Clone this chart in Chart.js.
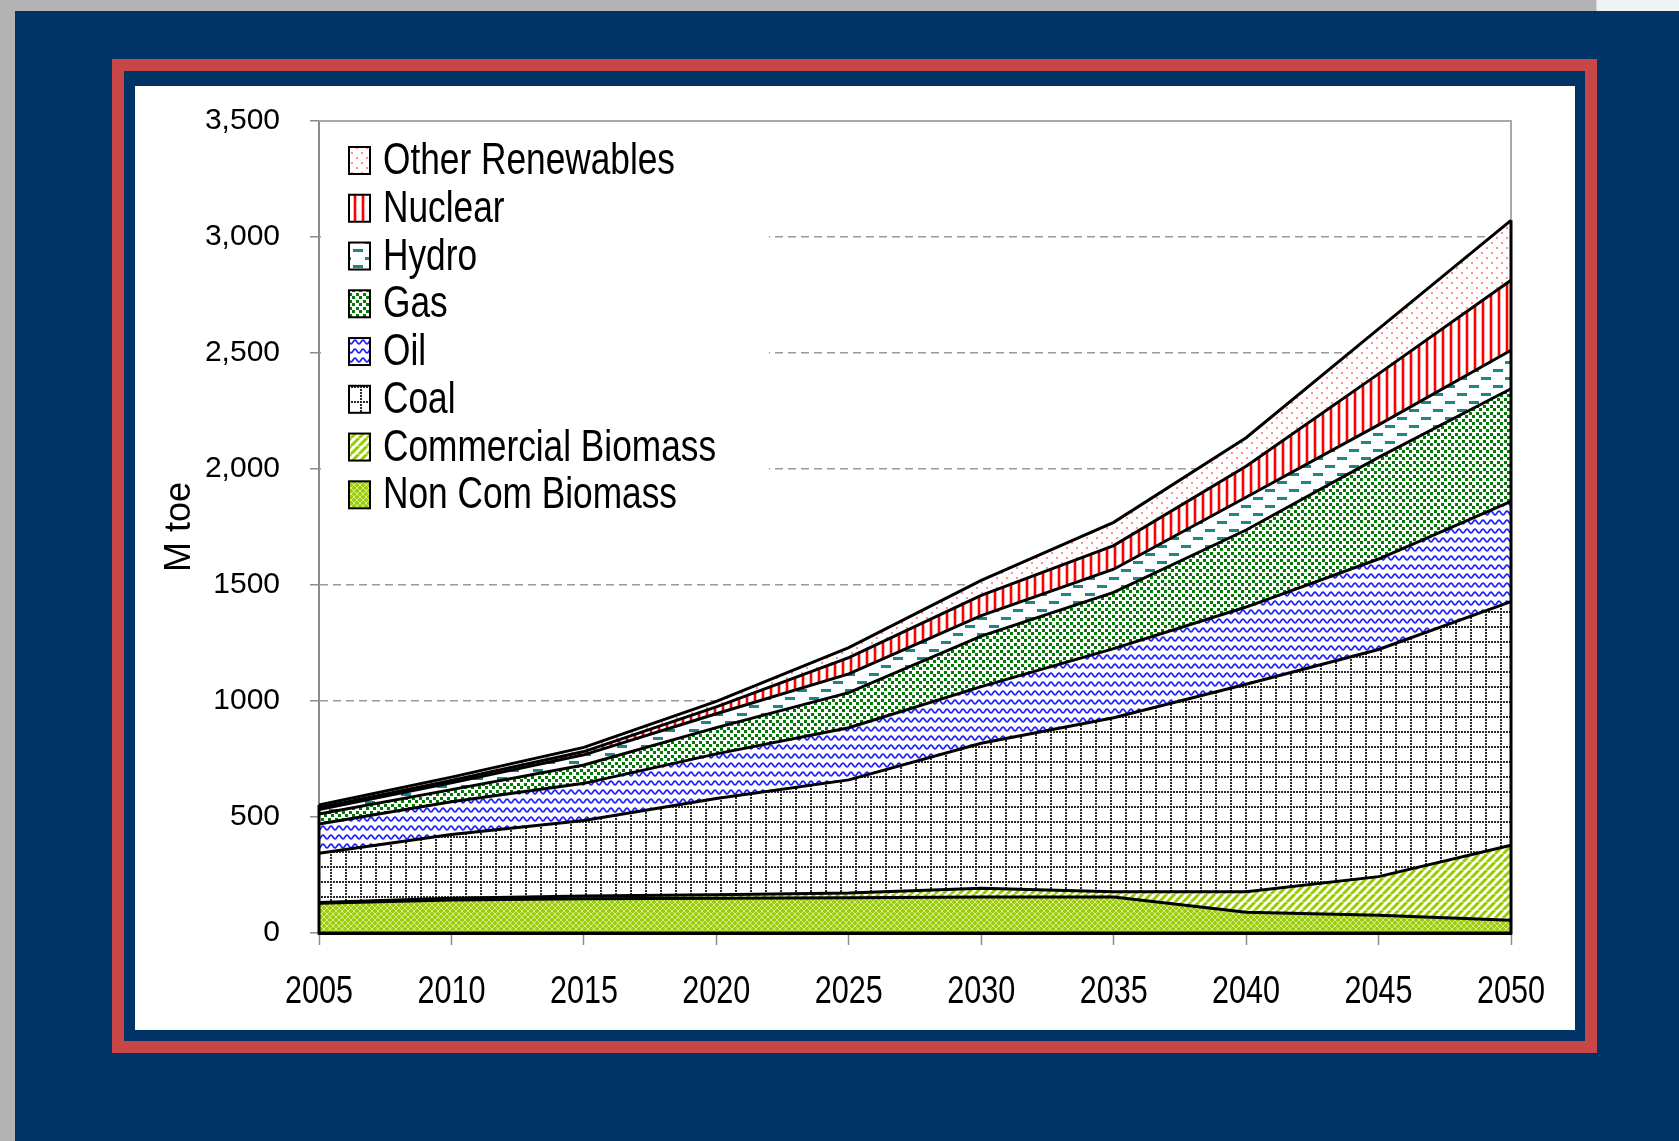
<!DOCTYPE html>
<html>
<head>
<meta charset="utf-8">
<title>Primary energy supply by source, 2005-2050</title>
<script src="https://cdn.jsdelivr.net/npm/chart.js@4.4.1/dist/chart.umd.min.js"></script>
<style>
  html, body { margin: 0; padding: 0; }
  body { width: 1679px; height: 1141px; background: #003366; position: relative; overflow: hidden; }
  #grayTop { position: absolute; left: 0; top: 0; width: 1596px; height: 11px; background: #b3b3b3; }
  #grayLeft { position: absolute; left: 0; top: 0; width: 15px; height: 1141px; background: #b3b3b3; }
  #corner { position: absolute; left: 1596px; top: 0; width: 83px; height: 11px; background: #eef3f6; border-left: 1px solid #cfd8de; box-sizing: border-box; }
  #redFrame { position: absolute; left: 112px; top: 59px; width: 1461px; height: 970px; border: 12px solid #c94648; }
  #panel { position: absolute; left: 135px; top: 86px; width: 1440px; height: 944px; background: #fff; }
  #chart { display: block; }
</style>
</head>
<body>
<div id="grayTop"></div>
<div id="grayLeft"></div>
<div id="corner"></div>
<div id="redFrame"></div>
<div id="panel"><canvas id="chart" width="1440" height="944"></canvas></div>

<script>
// ---- data (Mtoe, each series is its own slice of the stack) ----
const years = ['2005', '2010', '2015', '2020', '2025', '2030', '2035', '2040', '2045', '2050'];

const nonComBiomass     = [128, 142, 148, 150, 152, 155, 155,  89,  77,  55];
const commercialBiomass = [  4,   8,  12,  15,  20,  38,  23,  89, 166, 323];
const coal              = [212, 275, 325, 415, 488, 625, 750, 894, 979, 1050];
const oil               = [126, 141, 160, 192, 225, 244, 298, 333, 390, 432];
const gas               = [ 43,  52,  79, 113, 151, 218, 242, 332, 438, 486];
const hydro             = [ 19,  30,  44,  60,  81,  88, 100, 141, 140, 166];
const nuclear           = [  8,  10,  14,  30,  70,  87, 102, 134, 220, 302];
const otherRenewables   = [ 12,  14,  18,  23,  43,  65, 100, 123, 194, 258];

const yTickLabels = ['0', '500', '1000', '1500', '2,000', '2,500', '3,000', '3,500'];

// ---- fill patterns (mimic the Excel hatch fills) ----
function makePattern(w, h, draw) {
  const tile = document.createElement('canvas');
  tile.width = w;
  tile.height = h;
  const g = tile.getContext('2d');
  g.fillStyle = '#fff';
  g.fillRect(0, 0, w, h);
  draw(g);
  return document.createElement('canvas').getContext('2d').createPattern(tile, 'repeat');
}

const patterns = {
  other: makePattern(10, 10, g => {
    g.fillStyle = '#ff8f8f';
    g.fillRect(1, 1, 2, 2);
    g.fillRect(6, 6, 2, 2);
  }),
  nuclear: makePattern(8, 8, g => {
    g.fillStyle = '#ffb0b0';
    g.fillRect(2, 0, 4, 8);
    g.fillStyle = '#ff0000';
    g.fillRect(3, 0, 2, 8);
  }),
  hydro: makePattern(24, 16, g => {
    g.fillStyle = '#1b8686';
    g.fillRect(2, 3, 10, 3);
    g.fillRect(14, 11, 10, 3);
  }),
  gas: makePattern(7, 7, g => {
    g.fillStyle = '#007a00';
    g.fillRect(0, 0, 3, 3);
    g.fillRect(4, 4, 3, 3);
  }),
  oil: makePattern(8, 9, g => {
    g.strokeStyle = '#2222ff';
    g.lineWidth = 1.7;
    g.beginPath();
    for (let x = -1; x <= 9; x += 0.5) {
      const y = 4 + 1.8 * Math.cos((2 * Math.PI * x) / 8);
      if (x === -1) g.moveTo(x, y); else g.lineTo(x, y);
    }
    g.stroke();
  }),
  coal: makePattern(15, 15, g => {
    g.fillStyle = '#2a2a2a';
    for (let i = 0; i < 15; i += 3) {
      g.fillRect(i, 0, 2, 2);
      g.fillRect(0, i, 2, 2);
    }
  }),
  commercial: makePattern(8, 8, g => {
    g.strokeStyle = '#99cc00';
    g.lineWidth = 3;
    g.beginPath();
    for (let k = -8; k <= 8; k += 8) {
      g.moveTo(k, 8);
      g.lineTo(k + 8, 0);
    }
    g.stroke();
  }),
  nonCom: makePattern(6, 6, g => {
    g.fillStyle = '#9dcc10';
    g.fillRect(0, 0, 6, 6);
    g.strokeStyle = '#d6ee8a';
    g.lineWidth = 1;
    g.beginPath();
    g.moveTo(0, 0); g.lineTo(6, 6);
    g.moveTo(6, 0); g.lineTo(0, 6);
    g.stroke();
  }),
};

// bottom of the stack first
const series = [
  { label: 'Non Com Biomass',    data: nonComBiomass,     fill: patterns.nonCom },
  { label: 'Commercial Biomass', data: commercialBiomass, fill: patterns.commercial },
  { label: 'Coal',               data: coal,              fill: patterns.coal },
  { label: 'Oil',                data: oil,               fill: patterns.oil },
  { label: 'Gas',                data: gas,               fill: patterns.gas },
  { label: 'Hydro',              data: hydro,             fill: patterns.hydro },
  { label: 'Nuclear',            data: nuclear,           fill: patterns.nuclear },
  { label: 'Other Renewables',   data: otherRenewables,   fill: patterns.other },
];

const SANS = "'Liberation Sans', Arial, sans-serif";

// draw text squeezed horizontally (the original uses Arial Narrow)
function narrowText(ctx, text, x, y, sx, align) {
  ctx.save();
  ctx.translate(x, y);
  ctx.scale(sx, 1);
  ctx.textAlign = align;
  ctx.fillText(text, 0, 0);
  ctx.restore();
}

// plot frame, black outline of the stacked block, x labels and the in-plot legend
const framePlugin = {
  id: 'framePlugin',
  beforeDatasetsDraw(chart) {
    const { ctx, chartArea: a } = chart;
    ctx.save();
    ctx.strokeStyle = '#a8a8a8';
    ctx.lineWidth = 2;
    ctx.beginPath();
    ctx.moveTo(a.left, a.top);
    ctx.lineTo(a.right, a.top);
    ctx.lineTo(a.right, a.bottom);
    ctx.stroke();
    ctx.restore();
  },
  afterDatasetsDraw(chart) {
    const { ctx } = chart;
    const y = chart.scales.y;
    const top = chart.getDatasetMeta(series.length - 1).data;
    const y0 = y.getPixelForValue(0);
    const first = top[0], last = top[top.length - 1];
    ctx.save();
    ctx.strokeStyle = '#000';
    ctx.lineWidth = 3;
    ctx.beginPath();
    ctx.moveTo(first.x, first.y);
    ctx.lineTo(first.x, y0);
    ctx.lineTo(last.x, y0);
    ctx.lineTo(last.x, last.y);
    ctx.stroke();
    ctx.restore();
  },
  afterDraw(chart) {
    const { ctx } = chart;
    const xs = chart.scales.x;
    ctx.save();

    // year labels under the axis
    ctx.font = '39px ' + SANS;
    ctx.fillStyle = '#000';
    ctx.textBaseline = 'alphabetic';
    const sxYear = 68 / ctx.measureText('2005').width;
    years.forEach((yr, i) => {
      narrowText(ctx, yr, xs.getPixelForTick(i), xs.bottom - 14 - 97 + 84, sxYear, 'center');
    });

    // legend box
    ctx.fillStyle = '#fff';
    ctx.fillRect(186, 37, 448, 397);
    ctx.font = '44px ' + SANS;
    const sx = 292 / ctx.measureText('Other Renewables').width;
    series.slice().reverse().forEach((s, i) => {
      const base = 88 + 47.76 * i;
      ctx.fillStyle = s.fill;
      ctx.fillRect(214, base - 27, 21, 27);
      ctx.strokeStyle = '#000';
      ctx.lineWidth = 2;
      ctx.strokeRect(214, base - 27, 21, 27);
      ctx.fillStyle = '#000';
      narrowText(ctx, s.label, 248, base, sx, 'left');
    });
    ctx.restore();
  },
};

new Chart(document.getElementById('chart'), {
  type: 'line',
  data: {
    labels: years,
    datasets: series.map((s, i) => ({
      label: s.label,
      data: s.data,
      backgroundColor: s.fill,
      borderColor: '#000',
      borderWidth: 3,
      pointRadius: 0,
      tension: 0,
      fill: i === 0 ? 'origin' : '-1',
    })),
  },
  options: {
    responsive: false,
    devicePixelRatio: 1,
    animation: false,
    layout: { padding: { left: 0, right: 64, top: 35, bottom: 0 } },
    plugins: {
      legend: { display: false },
      tooltip: { enabled: false },
    },
    scales: {
      x: {
        offset: false,
        grid: {
          drawOnChartArea: false,
          tickLength: 12,
          tickColor: '#8c8c8c',
          tickWidth: 1.5,
        },
        border: { display: true, color: '#000', width: 3 },
        ticks: { display: false, autoSkip: false },
        afterFit(scale) {
          scale.height = 97;
          scale.paddingLeft = 0;
          scale.paddingRight = 0;
        },
      },
      y: {
        stacked: true,
        min: 0,
        max: 3500,
        ticks: {
          stepSize: 500,
          color: '#000',
          font: { family: SANS, size: 30 },
          padding: 30,
          callback: v => yTickLabels[Math.round(v / 500)],
        },
        grid: {
          color: c => (c.tick && (c.tick.value === 0 || c.tick.value === 3500)) ? 'rgba(0,0,0,0)' : '#9a9a9a',
          lineWidth: 1.5,
          tickLength: 9,
          tickColor: '#8c8c8c',
          tickWidth: 1.5,
        },
        border: { display: true, color: '#8c8c8c', width: 2, dash: [8, 5] },
        title: {
          display: true,
          text: 'M toe',
          color: '#000',
          font: { family: SANS, size: 36 },
          padding: { top: 23, bottom: 0 },
        },
        afterFit(scale) {
          scale.width = 184;
          scale.paddingTop = 0;
          scale.paddingBottom = 0;
        },
      },
    },
  },
  plugins: [framePlugin],
});
</script>
</body>
</html>
